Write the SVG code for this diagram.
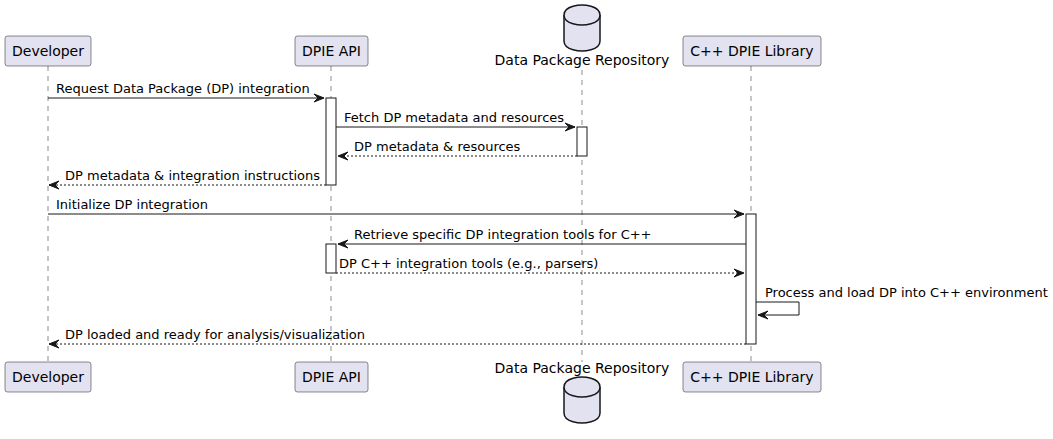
<svg xmlns="http://www.w3.org/2000/svg" width="1053" height="439" viewBox="0 0 1053 439">
<defs>
<style>
.life{stroke:#181818;stroke-width:0.5;stroke-dasharray:5,5;fill:none}
.box{fill:#E2E2F0;stroke:#181818;stroke-width:0.5}
.db{fill:#E2E2F0;stroke:#181818;stroke-width:1.5}
.act{fill:#FFFFFF;stroke:#181818;stroke-width:1}
.msg{stroke:#181818;stroke-width:1;fill:none}
.dash{stroke-dasharray:2,2}
.pl{font-family:"DejaVu Sans",sans-serif;font-size:14px;fill:#000000}
.ml{font-family:"DejaVu Sans",sans-serif;font-size:13px;fill:#000000}
.ah{fill:#181818;stroke:#181818;stroke-width:1}
</style>
</defs>
<g id="lifelines">
<line class="life" x1="48" y1="66" x2="48" y2="362"/>
<line class="life" x1="331" y1="66" x2="331" y2="362"/>
<line class="life" x1="582" y1="70" x2="582" y2="362"/>
<line class="life" x1="751" y1="66" x2="751" y2="362"/>
</g>
<g id="developer">
<rect class="box" x="5" y="36" width="86" height="30" rx="2.5"/>
<text class="pl" x="48" y="56" text-anchor="middle">Developer</text>
<rect class="box" x="5" y="362" width="86" height="30" rx="2.5"/>
<text class="pl" x="48" y="382" text-anchor="middle">Developer</text>
</g>
<g id="dpie-api">
<rect class="box" x="295" y="36" width="73" height="30" rx="2.5"/>
<text class="pl" x="331.5" y="56" text-anchor="middle">DPIE API</text>
<rect class="box" x="295" y="362" width="73" height="30" rx="2.5"/>
<text class="pl" x="331.5" y="382" text-anchor="middle">DPIE API</text>
</g>
<g id="repository">
<path class="db" d="M564,15 C564,5 582,5 582,5 C582,5 600,5 600,15 L600,41 C600,51 582,51 582,51 C582,51 564,51 564,41 Z"/>
<path class="db" fill="none" d="M564,15 C564,25 582,25 582,25 C582,25 600,25 600,15"/>
<text class="pl" x="582" y="65" text-anchor="middle">Data Package Repository</text>
<path class="db" d="M564,387 C564,377 582,377 582,377 C582,377 600,377 600,387 L600,413 C600,423 582,423 582,423 C582,423 564,423 564,413 Z"/>
<path class="db" fill="none" d="M564,387 C564,397 582,397 582,397 C582,397 600,397 600,387"/>
<text class="pl" x="582" y="373" text-anchor="middle">Data Package Repository</text>
</g>
<g id="cpp-library">
<rect class="box" x="683" y="36" width="138" height="30" rx="2.5"/>
<text class="pl" x="752" y="56" text-anchor="middle">C++ DPIE Library</text>
<rect class="box" x="683" y="362" width="138" height="30" rx="2.5"/>
<text class="pl" x="752" y="382" text-anchor="middle">C++ DPIE Library</text>
</g>
<g id="activations">
<rect class="act" x="326" y="98" width="10" height="87"/>
<rect class="act" x="577" y="127" width="10" height="29"/>
<rect class="act" x="746" y="214" width="10" height="130"/>
<rect class="act" x="326" y="244" width="10" height="29"/>
</g>
<g id="connectors">
<line class="msg" x1="48" y1="98" x2="324" y2="98"/>
<polygon class="ah" points="314,94 324,98 314,102 318,98"/>
<text class="ml" x="56" y="93">Request Data Package (DP) integration</text>

<line class="msg" x1="336" y1="127" x2="575" y2="127"/>
<polygon class="ah" points="565,123 575,127 565,131 569,127"/>
<text class="ml" x="344" y="122">Fetch DP metadata and resources</text>

<line class="msg dash" x1="577" y1="156" x2="338" y2="156"/>
<polygon class="ah" points="348,152 338,156 348,160 344,156"/>
<text class="ml" x="354" y="151">DP metadata &amp; resources</text>

<line class="msg dash" x1="326" y1="185" x2="49" y2="185"/>
<polygon class="ah" points="59,181 49,185 59,189 55,185"/>
<text class="ml" x="65" y="180">DP metadata &amp; integration instructions</text>

<line class="msg" x1="48" y1="214" x2="744" y2="214"/>
<polygon class="ah" points="734,210 744,214 734,218 738,214"/>
<text class="ml" x="56" y="209">Initialize DP integration</text>

<line class="msg" x1="746" y1="244" x2="338" y2="244"/>
<polygon class="ah" points="348,240 338,244 348,248 344,244"/>
<text class="ml" x="354" y="239">Retrieve specific DP integration tools for C++</text>

<line class="msg dash" x1="336" y1="273" x2="744" y2="273"/>
<polygon class="ah" points="734,269 744,273 734,277 738,273"/>
<text class="ml" x="339" y="268">DP C++ integration tools (e.g., parsers)</text>

<polyline class="msg" points="756,302 799,302 799,315 758,315"/>
<polygon class="ah" points="768,311 758,315 768,319 764,315"/>
<text class="ml" x="765" y="297">Process and load DP into C++ environment</text>

<line class="msg dash" x1="746" y1="344" x2="49" y2="344"/>
<polygon class="ah" points="59,340 49,344 59,348 55,344"/>
<text class="ml" x="65" y="339">DP loaded and ready for analysis/visualization</text>
</g>
</svg>
